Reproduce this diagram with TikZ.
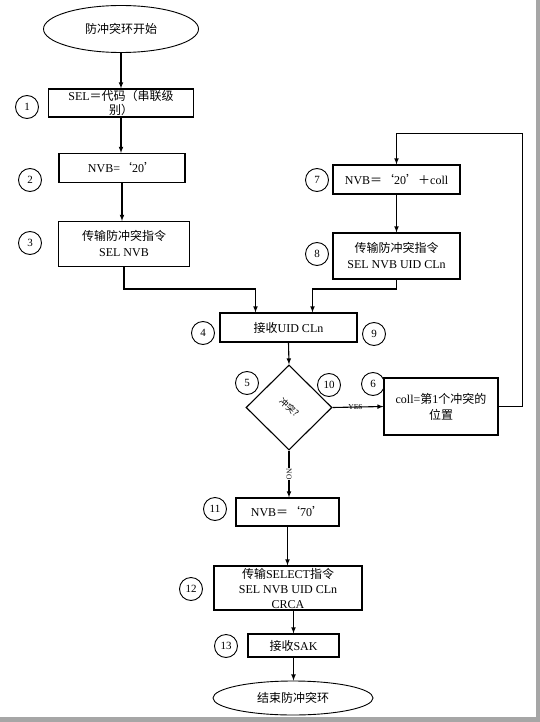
\documentclass[tikz,border=0pt]{standalone}
\usepackage{fontspec}
\setmainfont{Liberation Serif}
\newfontfamily\cjk{Noto Sans CJK SC}
\newcommand{\zhs}[1]{{\cjk #1}}
\usetikzlibrary{arrows,calc,shapes}

\begin{document}
\begin{tikzpicture}[x=1pt,y=-1pt,>=latex,
  box/.style={draw,line width=1.1pt,rectangle,inner sep=0pt,align=center,font=\fontsize{12}{16}\selectfont},
  term/.style={draw,line width=0.9pt,ellipse,inner sep=0pt,font=\fontsize{12}{16}\selectfont},
  num/.style={draw,line width=0.9pt,circle,minimum size=23pt,inner sep=0pt,font=\fontsize{11}{13}\selectfont},
  link/.style={line width=1.1pt,->},
  tag/.style={inner sep=0pt,font=\fontsize{7.5}{9}\selectfont}]
\useasboundingbox (0,0) rectangle (540,722);
% window shadow
\fill[gray!70] (536,0) rectangle (540,722);
\fill[gray!70] (0,717) rectangle (540,722);

  \node[term,minimum width=155pt,minimum height=47pt] (start) at (121,29) {\zhs{防冲突环开始}};
  \node[box,minimum width=145pt,minimum height=28pt] (b1) at (121,103) {SEL\zhs{＝代码（串联级}\\[-2pt]\zhs{别）}};
  \node[box,minimum width=126pt,minimum height=29pt] (b2) at (122,168) {NVB=\zhs{‘}20\zhs{’}};
  \node[box,minimum width=131pt,minimum height=45pt] (b3) at (124,244) {\zhs{传输防冲突指令}\\SEL NVB};
  \node[box,minimum width=137pt,minimum height=29pt] (b4) at (288.5,327.5) {\zhs{接收}UID CLn};
  \node[draw,line width=1.1pt,diamond,minimum width=86pt,minimum height=85pt,inner sep=0pt,
        font=\fontsize{9}{11}\selectfont] (d) at (289,407.5) {\rotatebox{-40}{\zhs{冲突?}}};
  \node[box,minimum width=114pt,minimum height=57pt] (b6) at (441,406.5) {coll=\zhs{第}1\zhs{个冲突的}\\\zhs{位置}};
  \node[box,minimum width=127pt,minimum height=29pt] (b7) at (396.5,179.5) {NVB\zhs{＝‘}20\zhs{’＋}coll};
  \node[box,minimum width=127pt,minimum height=46pt] (b8) at (396.5,256) {\zhs{传输防冲突指令}\\SEL NVB UID CLn};
  \node[box,minimum width=103pt,minimum height=28pt] (b11) at (287.5,512) {NVB\zhs{＝‘}70\zhs{’}};
  \node[box,minimum width=148pt,minimum height=44pt] (b12) at (288,588) {\zhs{传输}SELECT\zhs{指令}\\[-1pt]SEL NVB UID CLn\\[-1pt]CRCA};
  \node[box,minimum width=91pt,minimum height=23pt] (b13) at (293.5,645.5) {\zhs{接收}SAK};
  \node[term,minimum width=160pt,minimum height=34pt] (stop) at (293,698) {\zhs{结束防冲突环}};

  % step numbers
  \node[num] (n1) at (27,107) {1};
  \node[num] (n2) at (30,180) {2};
  \node[num] (n3) at (30,243) {3};
  \node[num] (n4) at (203,333) {4};
  \node[num] (n5) at (247,383) {5};
  \node[num] (n6) at (373,384) {6};
  \node[num] (n7) at (317,180) {7};
  \node[num] (n8) at (317,254) {8};
  \node[num] (n9) at (374,334) {9};
  \node[num] (n10) at (329,385) {10};
  \node[num] (n11) at (215,509) {11};
  \node[num] (n12) at (191,589) {12};
  \node[num] (n13) at (226,646) {13};

  \draw[link] (start.south) -- (start.south |- b1.north);
  \draw[link] (b1.south) -- (b1.south |- b2.north);
  \draw[link] (b2.south) -- (b2.south |- b3.north);
  \draw[link] (b3.south) -- (b3.south |- 0,289) -| ([xshift=-33pt]b4.north);
  \draw[link] (b8.south) -- (b8.south |- 0,289) -| ([xshift=24pt]b4.north);
  \draw[link] (b4.south) -- (d.north);
  \draw[link] (d.east) -- node[tag,pos=0.45,above=-3pt] (yes) {YES} (b6.west);
  \draw[link] (b6.east) -- ++(24,0) |- ([yshift=31pt]b7.north) -- (b7.north);
  \draw[link] (b7.south) -- (b7.south |- b8.north);
  \draw[link] (d.south) -- node[tag,rotate=-90,fill=white,inner sep=0.5pt] (no) {NO} (d.south |- b11.north);
  \draw[link] (b11.south) -- (b11.south |- b12.north);
  \draw[link] (b13.north |- b12.south) -- (b13.north);
  \draw[link] (b13.south) -- (b13.south |- stop.north);
\end{tikzpicture}
\end{document}
